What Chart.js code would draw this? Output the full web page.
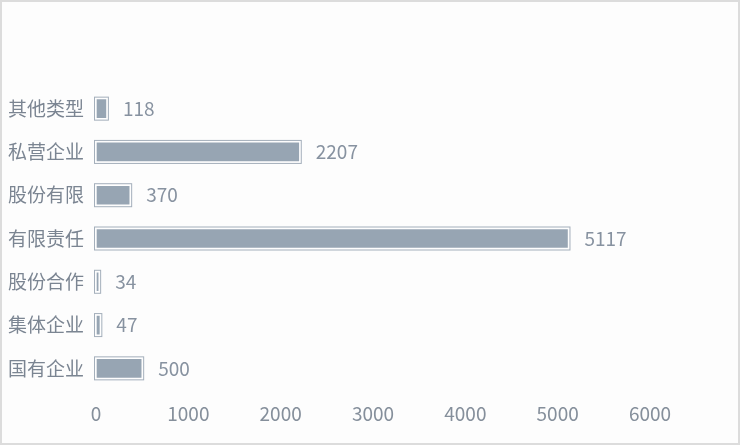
<!DOCTYPE html>
<html>
<head>
<meta charset="utf-8">
<script src="https://cdn.jsdelivr.net/npm/chart.js@4"></script>
<style>
  html, body { margin: 0; padding: 0; background: #fff; }
  .box { width: 736px; height: 441px; border: 2px solid #dcdcdc; background: #fdfdfd; position: relative; }
  canvas { position: absolute; left: -2px; top: -2px; }
</style>
</head>
<body>
<div class="box"><canvas id="chart" width="740" height="445"></canvas></div>
<script>
const categories = ['其他类型', '私营企业', '股份有限', '有限责任', '股份合作', '集体企业', '国有企业'];
const counts = [118, 2207, 370, 5117, 34, 47, 500];
const xTicks = [0, 1000, 2000, 3000, 4000, 5000, 6000];

const fontFamily = '"Noto Sans CJK SC", "Noto Sans", sans-serif';

// outer grey frame around each bar + value label at the bar end
const barDecor = {
  id: 'barDecor',
  afterDatasetsDraw(chart) {
    const ctx = chart.ctx;
    const meta = chart.getDatasetMeta(0);
    ctx.save();
    meta.data.forEach((bar, i) => {
      const left = Math.min(bar.base, bar.x);
      const w = Math.abs(bar.x - bar.base);
      const h = bar.height;
      ctx.strokeStyle = '#a4afbb';
      ctx.lineWidth = 1;
      ctx.strokeRect(left - 1.5, bar.y - h / 2 - 1.5, w + 3, h + 3);
      ctx.fillStyle = '#8792a0';
      ctx.font = '19px ' + fontFamily;
      ctx.textBaseline = 'middle';
      ctx.textAlign = 'left';
      ctx.fillText(String(counts[i]), bar.x + 16, bar.y);
    });
    ctx.restore();
  }
};

const ctx = document.getElementById('chart').getContext('2d');
new Chart(ctx, {
  type: 'bar',
  data: {
    labels: categories,
    datasets: [{
      data: counts,
      backgroundColor: '#97a5b3',
      borderColor: '#ffffff',
      borderWidth: 1,
      barThickness: 20,
      borderSkipped: false
    }]
  },
  options: {
    indexAxis: 'y',
    responsive: false,
    animation: false,
    layout: { padding: { top: 87, right: 90, bottom: 10, left: 0 } },
    scales: {
      x: {
        min: 0,
        max: 6000,
        afterBuildTicks(scale) { scale.ticks = xTicks.map(v => ({ value: v })); },
        afterFit(scale) { scale.height = 45; },
        grid: { display: false, drawTicks: false },
        border: { display: false },
        ticks: {
          color: '#858f9b',
          padding: 12,
          font: { size: 19, family: fontFamily },
          callback: v => String(v)
        }
      },
      y: {
        afterFit(scale) { scale.width = 96; },
        grid: { display: false, drawTicks: false },
        border: { display: false },
        ticks: { color: '#7b8592', padding: 12, font: { size: 19, family: fontFamily } }
      }
    },
    plugins: {
      legend: { display: false },
      tooltip: { enabled: false }
    }
  },
  plugins: [barDecor]
});
</script>
</body>
</html>
